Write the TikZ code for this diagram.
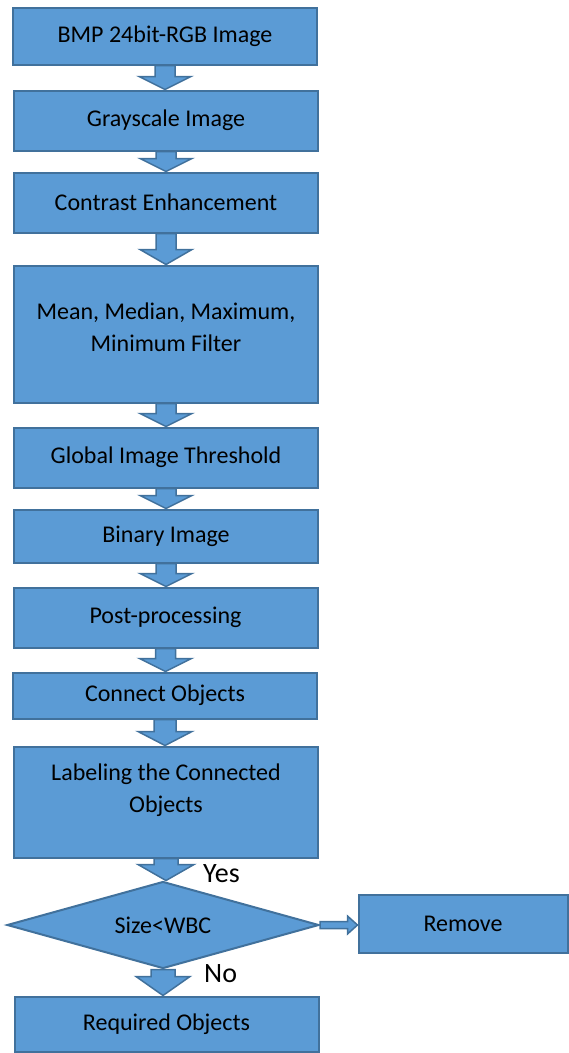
\documentclass[tikz,border=0pt]{standalone}
\usepackage{fontspec}
\setmainfont{Carlito}
\usetikzlibrary{shapes.geometric,calc}
\definecolor{boxfill}{HTML}{5B9BD5}
\definecolor{boxline}{HTML}{41719C}
\tikzset{
  procbox/.style={draw=boxline, fill=boxfill, line width=2pt,
    minimum width=304pt, inner sep=0pt, align=center,
    font=\fontsize{24}{32}\selectfont},
  decision/.style={diamond, draw=boxline, fill=boxfill, line width=2pt,
    minimum width=312pt, minimum height=87pt, inner sep=0pt, aspect=3.6,
    font=\fontsize{24}{32}\selectfont},
  boxtext/.style={align=center, inner sep=0pt, font=\fontsize{24}{32}\selectfont},
  flowarrow/.style={draw=boxline, fill=boxfill, line width=1.5pt, line join=miter},
  answer/.style={font=\fontsize{28}{32}\selectfont, inner sep=0pt, anchor=base west}
}
% block arrow pointing down: #1 half shaft width, #2 half head width,
% #3 head length, #4 source node, #5 target node
\newcommand\blockdown[5]{%
  \path[flowarrow] let \p1=(#4.south), \p2=(#5.north) in
    (\x1-#1,\y1) -- (\x1+#1,\y1) -- (\x1+#1,\y2+#3) -- (\x1+#2,\y2+#3)
    -- (\x1,\y2) -- (\x1-#2,\y2+#3) -- (\x1-#1,\y2+#3) -- cycle;}
\begin{document}
\begin{tikzpicture}[x=1pt,y=1pt]
  \useasboundingbox (0,0) rectangle (569,-1053);

  \node[procbox, minimum height=57pt]  (bmp)      at (165,-36)    {BMP 24bit-RGB Image};
  \node[procbox, minimum height=60pt]  (gray)     at (166,-120.5) {Grayscale Image};
  \node[procbox, minimum height=60pt]  (contrast) at (166,-202.5) {Contrast Enhancement};
  \node[procbox, minimum height=137pt,
        label={[boxtext, yshift=7pt]center:Mean, Median, Maximum,\\Minimum Filter}]
                                       (filter)   at (166,-334)   {};
  \node[procbox, minimum height=60pt]  (thresh)   at (166,-457.5) {Global Image Threshold};
  \node[procbox, minimum height=53pt]  (binary)   at (166,-536)   {Binary Image};
  \node[procbox, minimum height=60pt]  (post)     at (165.5,-617.5) {Post-processing};
  \node[procbox, minimum height=46pt]  (connect)  at (165,-695.5) {Connect Objects};
  \node[procbox, minimum height=111pt,
        label={[boxtext, yshift=12pt]center:Labeling the Connected\\Objects}]
                                       (labeling) at (166,-802)   {};
  \node[decision]                      (size)     at (163,-925)   {Size<WBC};
  \node[procbox, minimum width=209pt, minimum height=58pt]
                                       (remove)   at (463,-923.5) {Remove};
  \node[procbox, minimum height=55pt]  (required) at (166.5,-1024) {Required Objects};

  \blockdown{10pt}{26pt}{13pt}{bmp}{gray}
  \blockdown{10pt}{26pt}{13pt}{gray}{contrast}
  \blockdown{10pt}{26pt}{15pt}{contrast}{filter}
  \blockdown{10pt}{26pt}{13pt}{filter}{thresh}
  \blockdown{10pt}{26pt}{13pt}{thresh}{binary}
  \blockdown{10pt}{26pt}{13pt}{binary}{post}
  \blockdown{10pt}{26pt}{13pt}{post}{connect}
  \blockdown{11pt}{27pt}{14pt}{connect}{labeling}
  \blockdown{12pt}{28pt}{16pt}{labeling}{size}
  \blockdown{12pt}{27pt}{19pt}{size}{required}

  % branch to the removal step
  \path[flowarrow] let \p1=(size.east), \p2=(remove.west) in
    (\x1,\y1+3.5pt) -- (\x2-10pt,\y1+3.5pt) -- (\x2-10pt,\y1+9pt) -- (\x2,\y1)
    -- (\x2-10pt,\y1-9pt) -- (\x2-10pt,\y1-3.5pt) -- (\x1,\y1-3.5pt) -- cycle;

  \node[answer] (yes) at (203,-882) {Yes};
  \node[answer] (no)  at (204,-982) {No};
\end{tikzpicture}
\end{document}
